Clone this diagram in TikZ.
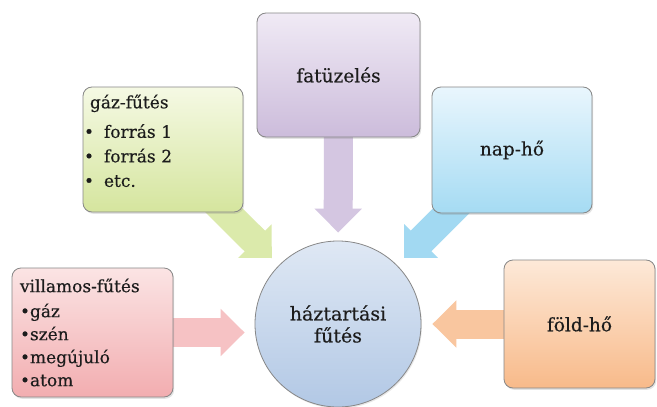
\documentclass[tikz,border=0pt]{standalone}
\usepackage{fontspec}
\setmainfont{DejaVu Serif}[FakeBold=0.4]
\usetikzlibrary{arrows.meta,shadows,backgrounds}

\definecolor{ink}{HTML}{1C1C1C}
\definecolor{boxline}{HTML}{878787}
\definecolor{pinktop}{HTML}{FBE4E4}
\definecolor{pinkbot}{HTML}{F2ADB0}
\definecolor{pinkarrow}{HTML}{F6C2C4}
\definecolor{greentop}{HTML}{F5F9E4}
\definecolor{greenbot}{HTML}{D5E59E}
\definecolor{greenarrow}{HTML}{DBEAAB}
\definecolor{purpletop}{HTML}{F0EAF5}
\definecolor{purplebot}{HTML}{CCBCDB}
\definecolor{purplearrow}{HTML}{D4C6E1}
\definecolor{bluetop}{HTML}{E9F6FD}
\definecolor{bluebot}{HTML}{A5DBF3}
\definecolor{bluearrow}{HTML}{A2D9F2}
\definecolor{orangetop}{HTML}{FDE9D8}
\definecolor{orangebot}{HTML}{F8BA8A}
\definecolor{orangearrow}{HTML}{F9C69F}
\definecolor{hubtop}{HTML}{DFE8F4}
\definecolor{hubbot}{HTML}{B2C8E5}

% bullet with a small hanging indent for the gas list
\newcommand{\listdot}{\hspace*{-6pt}•\hspace{10pt}}

\begin{document}
\begin{tikzpicture}[x=1pt,y=-1pt,
  box/.style={draw=boxline, line width=0.8pt, rounded corners=9pt, text=ink,
    inner sep=0pt,
    drop shadow={opacity=0.22, shadow xshift=1.2pt, shadow yshift=-1.8pt}},
  wordfont/.style={font=\fontsize{18.5}{22}\selectfont},
  blockarrow/.style={line width=29pt, -{Triangle[length=24pt,width=46pt]},
    shorten >=10pt},
]
\useasboundingbox (0,0) rectangle (657,407);

% central hub
\node[circle, draw=boxline, line width=0.8pt, minimum size=166pt, inner sep=0pt,
  top color=hubtop, bottom color=hubbot, text=ink, align=center,
  font=\fontsize{19}{22}\selectfont,
  drop shadow={opacity=0.18, shadow xshift=1pt, shadow yshift=-1.5pt}]
  (hub) at (338,324) {háztartási\\fűtés};

% source boxes
\node[box, font=\fontsize{17}{23}\selectfont, top color=pinktop, bottom color=pinkbot,
  minimum height=129pt, text width=145pt, inner xsep=8pt, align=left]
  (pink) at (92.5,332.5)
  {villamos-fűtés\\[2pt]•gáz\\•szén\\•megújuló\\•atom};

\node[box, top color=greentop, bottom color=greenbot,
  font=\fontsize{17}{24.5}\selectfont,
  minimum height=125pt, text width=146pt, inner xsep=7pt, align=left,
  text depth=96pt]
  (green) at (163,149.5)
  {gáz-fűtés\\[5pt]\listdot forrás 1\\\listdot forrás 2\\\listdot etc.};

\node[box, wordfont, top color=purpletop, bottom color=purplebot,
  minimum width=163pt, minimum height=124pt]
  (purple) at (338.5,75) {fatüzelés};

\node[box, wordfont, top color=bluetop, bottom color=bluebot,
  minimum width=160pt, minimum height=126pt]
  (blue) at (512,150) {nap-hő};

\node[box, wordfont, top color=orangetop, bottom color=orangebot,
  minimum width=151pt, minimum height=128pt]
  (orange) at (579.5,324) {föld-hő};

% block arrows run behind the boxes
\begin{scope}[on background layer]
  \fill[white] (0,0) rectangle (657,407);
  \draw[blockarrow, draw=pinkarrow, fill=pinkarrow]
    (pink.east) -- (pink.east -| hub.west);
  \draw[blockarrow, draw=orangearrow, fill=orangearrow, shorten >=11pt]
    (orange.west) -- (orange.west -| hub.east);
  \draw[blockarrow, draw=purplearrow, fill=purplearrow, shorten >=8pt]
    (purple.center) -- (hub);
  \draw[blockarrow, draw=greenarrow, fill=greenarrow]
    (green.center) -- (hub);
  \draw[blockarrow, draw=bluearrow, fill=bluearrow]
    (blue.center) -- (hub);
\end{scope}
\end{tikzpicture}
\end{document}
